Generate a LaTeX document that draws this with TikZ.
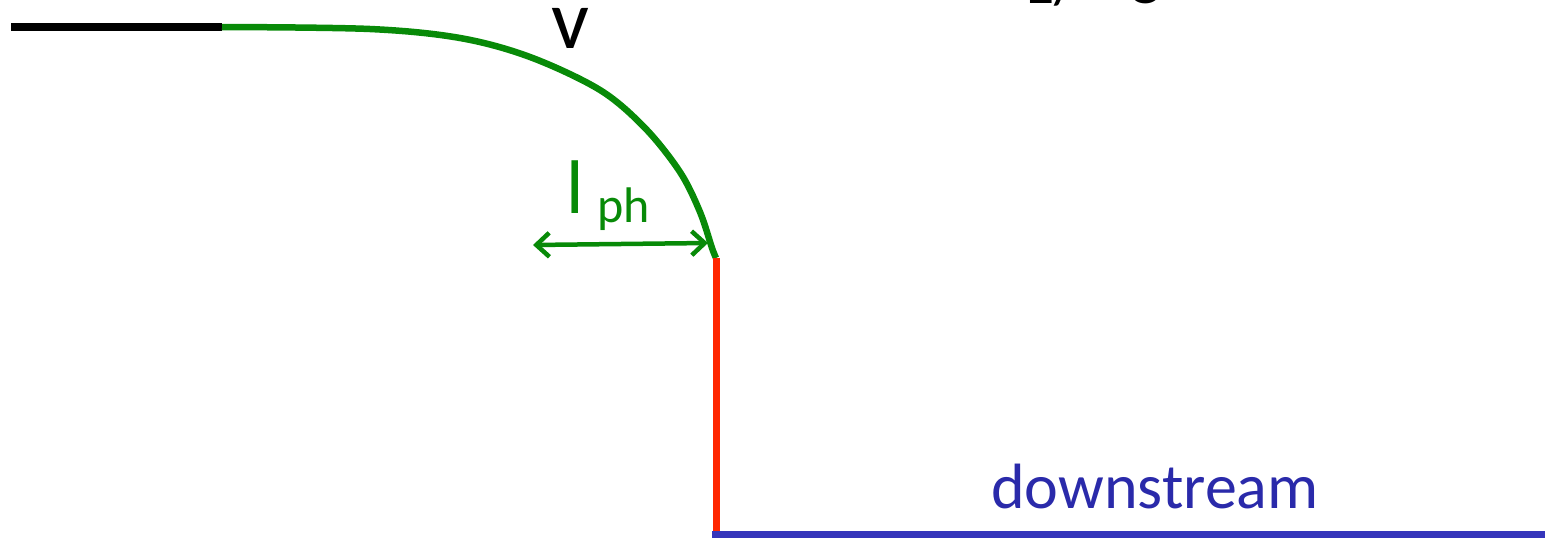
\documentclass[tikz,border=0pt]{standalone}
\usepackage{fontspec}
\setmainfont{Carlito}
\usetikzlibrary{arrows.meta}
\definecolor{curvegreen}{HTML}{088A08}
\definecolor{wallred}{HTML}{FF2600}
\definecolor{floorblue}{HTML}{3535BB}
\definecolor{textblue}{HTML}{2A2AAA}
\tikzset{
  lbl/.style={inner sep=0pt, anchor=base},
  phase/.style={line width=6.5pt, line cap=butt},
}
\begin{document}
\begin{tikzpicture}[x=1pt, y=-1pt]
    \useasboundingbox (0,0) rectangle (1545,539);

    \coordinate (start) at (11,27);
    \coordinate (kink) at (222,27);
    \coordinate (edge) at (716,258);
    \coordinate (bottom) at (716,537);
    \coordinate (farend) at (1545,534);

    % upstream level
    \draw[line width=7.5pt] (start) -- (kink);

    % rounded front
    \draw[phase, curvegreen, line join=round] plot[smooth, tension=0.55] coordinates
      {(kink) (370,29) (460,38) (530,57) (600,90) (645,128) (680,172) (700,212) (712,248) (edge)};

    % wall and downstream level
    \draw[phase, line width=7pt, wallred] (edge) -- (bottom);
    \draw[phase, line width=7pt, floorblue] (712,534) -- (farend);

    % width of the front
    \coordinate (lphL) at (533,245);
    \coordinate (lphR) at (708,243);
    \draw[curvegreen, line width=4.5pt, {Straight Barb[length=13pt,width=24pt,line width=4.5pt]}-{Straight Barb[length=13pt,width=24pt,line width=4.5pt]}] (lphL) -- (lphR);

    % labels
    \node[lbl] (v) at (570,48) {\fontsize{84}{88}\selectfont v};
    \node[lbl, anchor=base west, text=curvegreen] (lph) at (566,213)
      {\fontsize{76}{80}\selectfont l\hspace{14pt}\raisebox{-9pt}{\fontsize{50}{54}\selectfont ph}};
    \node[lbl, text=textblue] (down) at (1155,508) {\fontsize{64}{70}\selectfont downstream};
    \node[lbl, anchor=base west] (ratio) at (1022,3) {\fontsize{64}{70}\selectfont 1/\hspace{50pt}ε};
\end{tikzpicture}
\end{document}
